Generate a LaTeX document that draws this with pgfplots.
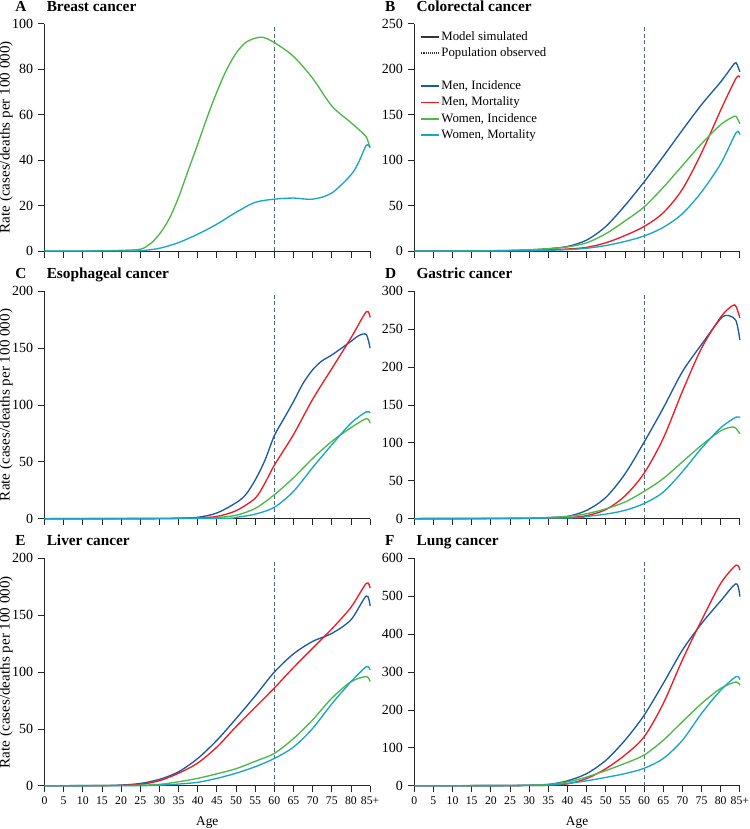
\documentclass[border=0pt]{standalone}
\usepackage{fontspec}
\setmainfont{Liberation Serif}
\usepackage{pgfplots}
\pgfplotsset{compat=1.18}
\definecolor{cMI}{RGB}{28,90,163}
\definecolor{cMM}{RGB}{237,28,36}
\definecolor{cWI}{RGB}{77,184,72}
\definecolor{cWM}{RGB}{23,166,199}
\definecolor{cDash}{RGB}{80,105,125}
\pgfplotsset{
  panel/.style={
    scale only axis, width=244.2pt, height=170.5pt,
    xmin=0, xmax=85, ymin=0,
    axis x line*=bottom, axis y line*=left,
    axis line style={-, black!85, line width=0.6pt},
    tick align=outside, major tick length=5pt,
    tick style={black!85, line width=0.6pt},
    xtick={0,5,...,85},
    yticklabel style={font=\fontsize{10.5}{12}\selectfont},
    xticklabel style={font=\fontsize{8.8}{10}\selectfont},
    /pgf/number format/assume math mode=true,
    clip=false,
    ylabel style={font=\fontsize{11}{13}\selectfont, at={(axis description cs:-0.118,0.5)}, anchor=center, xscale=1.03},
    xlabel style={font=\fontsize{10}{12}\selectfont, at={(axis description cs:0.5,-0.16)}, anchor=center},
  },
  notix/.style={xticklabels={}},
  botx/.style={xticklabels={0,5,10,15,20,25,30,35,40,45,50,55,60,65,70,75,80,85+}, xlabel={Age}},
  ser/.style={line width=1pt, smooth, tension=0.5, #1},
  vline/.style={cDash, line width=0.7pt, dash pattern=on 3pt off 2pt, forget plot},
}
\newcommand{\ptitle}[2]{%
  \node[anchor=base west, font=\bfseries\fontsize{11.5}{13}\selectfont, inner sep=0pt] at (rel axis cs:0,1) [xshift=-22pt, yshift=9.5pt] {#1};
  \node[anchor=base west, font=\bfseries\fontsize{11.5}{13}\selectfont, inner sep=0pt] at (rel axis cs:0,1) [xshift=1.5pt, yshift=9.5pt] {#2};}
\begin{document}
\begin{tikzpicture}
\useasboundingbox (0,0) rectangle (562.5pt,-621.75pt);
% ---------- A Breast
\begin{axis}[panel, notix, at={(33.375pt,-188.25pt)}, anchor=south west,
  ymax=100, ytick={0,20,...,100}, ylabel={Rate (cases/deaths per 100 000)}]
\addplot[vline] coordinates {(60,0) (60,98.5)};
\addplot[ser=cWI] coordinates {(0,0)(5,0)(10,0)(15,0.1)(20,0.3)(25,0.8)(27.5,3)(30,7.4)(32.5,14)(35,23.6)(37.5,35.4)(40,47)(42.5,59)(45,70)(47.5,79.6)(50,87)(52.5,91.7)(55,93.6)(57,94)(60,91.7)(65,85.6)(70,76)(75,63.8)(80,56.5)(83,52)(84,50.3)(85,45.5)};
\addplot[ser=cWM] coordinates {(0,0)(20,0)(25,0.1)(30,1.2)(35,3.7)(40,7.4)(45,11.8)(50,17)(55,21.4)(60,22.8)(65,23.3)(70,22.8)(75,25.5)(80,33.5)(82,39)(84,46.5)(85,45.5)};
\ptitle{A}{Breast cancer}
\end{axis}
% ---------- B Colorectal
\begin{axis}[panel, notix, at={(310.7pt,-188.25pt)}, anchor=south west,
  ymax=250, ytick={0,50,...,250},
  legend style={at={(rel axis cs:0,1)}, anchor=north west, xshift=4.5pt, yshift=-4.2pt,
    draw=none, fill=none, inner sep=0pt, row sep=1.3pt,
    font=\fontsize{9.6}{11}\selectfont,
    nodes={inner sep=1pt, text height=7pt, text depth=2pt}},
  legend cell align=left,
  legend image code/.code={\draw[#1, line width=1.2pt] (0pt,0pt) -- (13.5pt,0pt);}]
\addlegendimage{black!80}\addlegendentry{Model simulated}
\addlegendimage{black!80, dash pattern=on 0.8pt off 0.8pt}\addlegendentry{Population observed}
\addlegendimage{empty legend}\addlegendentry{}
\addplot[vline] coordinates {(60,0) (60,246)};
\addplot[ser=cMI] coordinates {(0,0)(10,0)(20,0.3)(25,0.6)(30,1.3)(35,2.5)(40,5)(45,12)(50,27)(55,50)(60,76)(65,104)(70,133)(75,161)(80,186)(83,203)(84,207)(85,197)};
\addlegendentry{Men, Incidence}
\addplot[ser=cMM] coordinates {(0,0)(20,0.1)(30,0.5)(35,1.2)(40,2.2)(45,4)(50,9)(55,17)(60,27)(65,42)(70,68)(75,108)(80,155)(84,190)(85,191)};
\addlegendentry{Men, Mortality}
\addplot[ser=cWI] coordinates {(0,0)(20,0.3)(30,1.3)(35,2.5)(40,4.5)(45,9)(50,19)(55,33)(60,48.5)(65,70)(70,94)(75,118)(80,139)(83,147)(84,148)(85,140)};
\addlegendentry{Women, Incidence}
\addplot[ser=cWM] coordinates {(0,0)(20,0.1)(30,0.4)(35,0.8)(40,1.5)(45,3)(50,6)(55,10.5)(60,16.5)(65,26)(70,41)(75,65)(80,96)(84,130)(85,128)};
\addlegendentry{Women, Mortality}
\ptitle{B}{Colorectal cancer}
\end{axis}
% ---------- C Esophageal
\begin{axis}[panel, notix, at={(33.375pt,-389.0pt)}, anchor=south west,
  ymax=200, ytick={0,50,...,200}, ylabel={Rate (cases/deaths per 100 000)}]
\addplot[vline] coordinates {(60,0) (60,197)};
\addplot[ser=cMI] coordinates {(0,0)(20,0)(30,0.1)(35,0.4)(40,1.2)(45,5)(50,14)(52.5,21)(55,34)(57.5,51)(60,73)(62.5,88)(65,103)(67.5,119)(70,131)(72.5,139)(75,144)(80,156)(82,161)(84,162)(85,150)};
\addplot[ser=cMM] coordinates {(0,0)(30,0.1)(40,0.8)(45,2)(50,7)(55,18)(57.5,31)(60,47)(65,74)(70,105)(75,132)(80,159)(84,182)(85,177)};
\addplot[ser=cWI] coordinates {(0,0)(40,0.3)(45,1)(50,3)(55,9)(60,21)(65,36)(70,53)(75,68)(80,80)(84,88)(85,84)};
\addplot[ser=cWM] coordinates {(0,0)(45,0.3)(50,1.2)(55,4)(60,10)(65,24)(70,45)(75,65)(80,84)(84,94)(85,93)};
\ptitle{C}{Esophageal cancer}
\end{axis}
% ---------- D Gastric
\begin{axis}[panel, notix, at={(310.7pt,-389.0pt)}, anchor=south west,
  ymax=300, ytick={0,50,...,300}]
\addplot[vline] coordinates {(60,0) (60,296)};
\addplot[ser=cMI] coordinates {(0,0)(20,0.2)(30,0.6)(35,1.5)(40,3)(45,11)(50,28)(55,59)(60,101)(65,146)(70,194)(75,230)(80,264)(82,268)(84,261)(85,236)};
\addplot[ser=cMM] coordinates {(0,0)(30,0.3)(40,1.5)(45,4)(50,12)(55,30)(60,60)(65,106)(70,168)(75,225)(80,266)(83,281)(84,280)(85,265)};
\addplot[ser=cWI] coordinates {(0,0)(30,0.5)(35,1.5)(40,3)(45,6.5)(50,13)(55,22)(60,36)(65,53)(70,75)(75,97)(80,116)(83,121)(84,119)(85,112)};
\addplot[ser=cWM] coordinates {(0,0)(40,1)(45,3)(50,6)(55,11)(60,20)(65,35)(70,62)(75,93)(80,120)(84,134)(85,133)};
\ptitle{D}{Gastric cancer}
\end{axis}
% ---------- E Liver
\begin{axis}[panel, botx, at={(33.375pt,-589.3pt)}, anchor=south west,
  ymax=200, ytick={0,50,...,200}, ylabel={Rate (cases/deaths per 100 000)}]
\addplot[vline] coordinates {(60,0) (60,197)};
\addplot[ser=cMI] coordinates {(0,0)(15,0.2)(20,0.6)(25,2)(30,5.6)(35,12.3)(40,24)(45,40)(50,59)(55,79)(60,100)(65,116)(70,127)(75,134)(80,146)(84,167)(85,158)};
\addplot[ser=cMM] coordinates {(0,0)(15,0.1)(20,0.4)(25,1.2)(30,4.4)(35,11)(40,20)(45,34)(50,52)(55,69)(60,86)(65,104)(70,121)(75,138)(80,157)(84,178)(85,174)};
\addplot[ser=cWI] coordinates {(0,0)(20,0.2)(25,0.5)(30,1.2)(35,3.5)(40,6.5)(45,10.5)(50,15)(55,21.5)(60,28.5)(65,41.5)(70,58)(75,77)(80,91.5)(84,96)(85,91.5)};
\addplot[ser=cWM] coordinates {(0,0)(25,0.1)(30,0.5)(35,1.5)(40,3)(45,6.5)(50,11)(55,16.7)(60,24)(65,34)(70,50.4)(75,72)(80,91.5)(84,104.7)(85,101.8)};
\ptitle{E}{Liver cancer}
\end{axis}
% ---------- F Lung
\begin{axis}[panel, botx, at={(310.7pt,-589.3pt)}, anchor=south west,
  ymax=600, ytick={0,100,...,600}]
\addplot[vline] coordinates {(60,0) (60,592)};
\addplot[ser=cMI] coordinates {(0,0)(20,0.3)(25,0.6)(30,1.5)(35,3.5)(40,13)(45,32)(50,67)(55,120)(60,186)(65,270)(70,358)(75,428)(80,488)(84,533)(85,499)};
\addplot[ser=cMM] coordinates {(0,0)(30,0.5)(35,1.5)(40,5)(45,19)(50,45)(55,81)(60,129)(65,217)(70,332)(75,437)(80,534)(84,582)(85,569)};
\addplot[ser=cWI] coordinates {(0,0)(25,0.5)(30,1.5)(35,3.5)(40,10)(45,23)(50,40)(55,59)(60,81)(65,120)(70,169)(75,217)(80,257)(84,274)(85,265)};
\addplot[ser=cWM] coordinates {(0,0)(30,0.5)(35,2)(40,6)(45,13)(50,22)(55,32)(60,46)(65,72)(70,120)(75,191)(80,252)(84,288)(85,280)};
\ptitle{F}{Lung cancer}
\end{axis}
\end{tikzpicture}
\end{document}
